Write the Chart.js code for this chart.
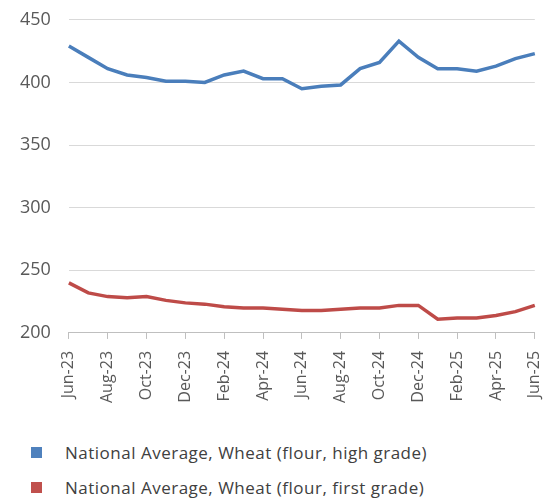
<!DOCTYPE html>
<html>
<head>
<meta charset="utf-8">
<script src="https://cdn.jsdelivr.net/npm/chart.js@4/dist/chart.umd.min.js"></script>
<style>
  body { margin: 0; background: #fff; font-family: "Open Sans", sans-serif; overflow: hidden; }
  #wrap { position: relative; width: 566px; height: 429px; margin-top: -9px; }
  #legend { margin-top: 15px; padding-left: 31px; }
  .item { display: flex; align-items: center; height: 35px; font-size: 17px; letter-spacing: 0.5px; color: #404040; }
  .sw { width: 11px; height: 11px; margin-right: 23px; }
</style>
</head>
<body>
<div id="wrap"><canvas id="chart"></canvas></div>
<div id="legend"></div>
<script>
const months = ["Jun-23","Jul-23","Aug-23","Sep-23","Oct-23","Nov-23","Dec-23","Jan-24","Feb-24","Mar-24","Apr-24","May-24",
  "Jun-24","Jul-24","Aug-24","Sep-24","Oct-24","Nov-24","Dec-24","Jan-25","Feb-25","Mar-25","Apr-25","May-25","Jun-25"];
const highGrade = [429,420,411,406,404,401,401,400,406,409,403,403,395,397,398,411,416,433,420,411,411,409,413,419,423];
const firstGrade = [240,232,229,228,229,226,224,223,221,220,220,219,218,218,219,220,220,222,222,211,212,212,214,217,222];
const seriesNames = ["National Average, Wheat (flour, high grade)", "National Average, Wheat (flour, first grade)"];
const colors = ["#4a7ebb", "#be4b48"];
const legendColors = ["#4f81bd", "#c0504d"];

const chart = new Chart(document.getElementById("chart"), {
  type: "line",
  data: {
    labels: months,
    datasets: [
      { label: seriesNames[0], data: highGrade, borderColor: colors[0], borderWidth: 3.5, pointRadius: 0, tension: 0 },
      { label: seriesNames[1], data: firstGrade, borderColor: colors[1], borderWidth: 3.5, pointRadius: 0, tension: 0 }
    ]
  },
  options: {
    responsive: true,
    maintainAspectRatio: false,
    animation: false,
    layout: { padding: { top: 0, right: 0, left: 2, bottom: 5 } },
    plugins: { legend: { display: false }, tooltip: { enabled: false } },
    scales: {
      x: {
        offset: false,
        grid: {
          drawOnChartArea: false,
          tickLength: 6,
          color: ctx => (ctx.index % 2 === 0 ? "#bfbfbf" : "rgba(0,0,0,0)")
        },
        border: { color: "#bfbfbf" },
        ticks: {
          autoSkip: false,
          maxRotation: 90,
          minRotation: 90,
          padding: 12,
          color: "#595959",
          font: { family: "Open Sans", size: 16 },
          callback: (v, i) => (i % 2 === 0 ? months[i] : "")
        }
      },
      y: {
        min: 200,
        max: 450,
        ticks: { stepSize: 50, color: "#595959", font: { family: "Open Sans", size: 18 }, padding: 18 },
        grid: { color: "#d9d9d9", drawTicks: false },
        border: { display: false }
      }
    }
  }
});

const legend = document.getElementById("legend");
seriesNames.forEach((n, i) => {
  legend.innerHTML += `<div class="item"><div class="sw" style="background:${legendColors[i]}"></div>${n}</div>`;
});
</script>
</body>
</html>
